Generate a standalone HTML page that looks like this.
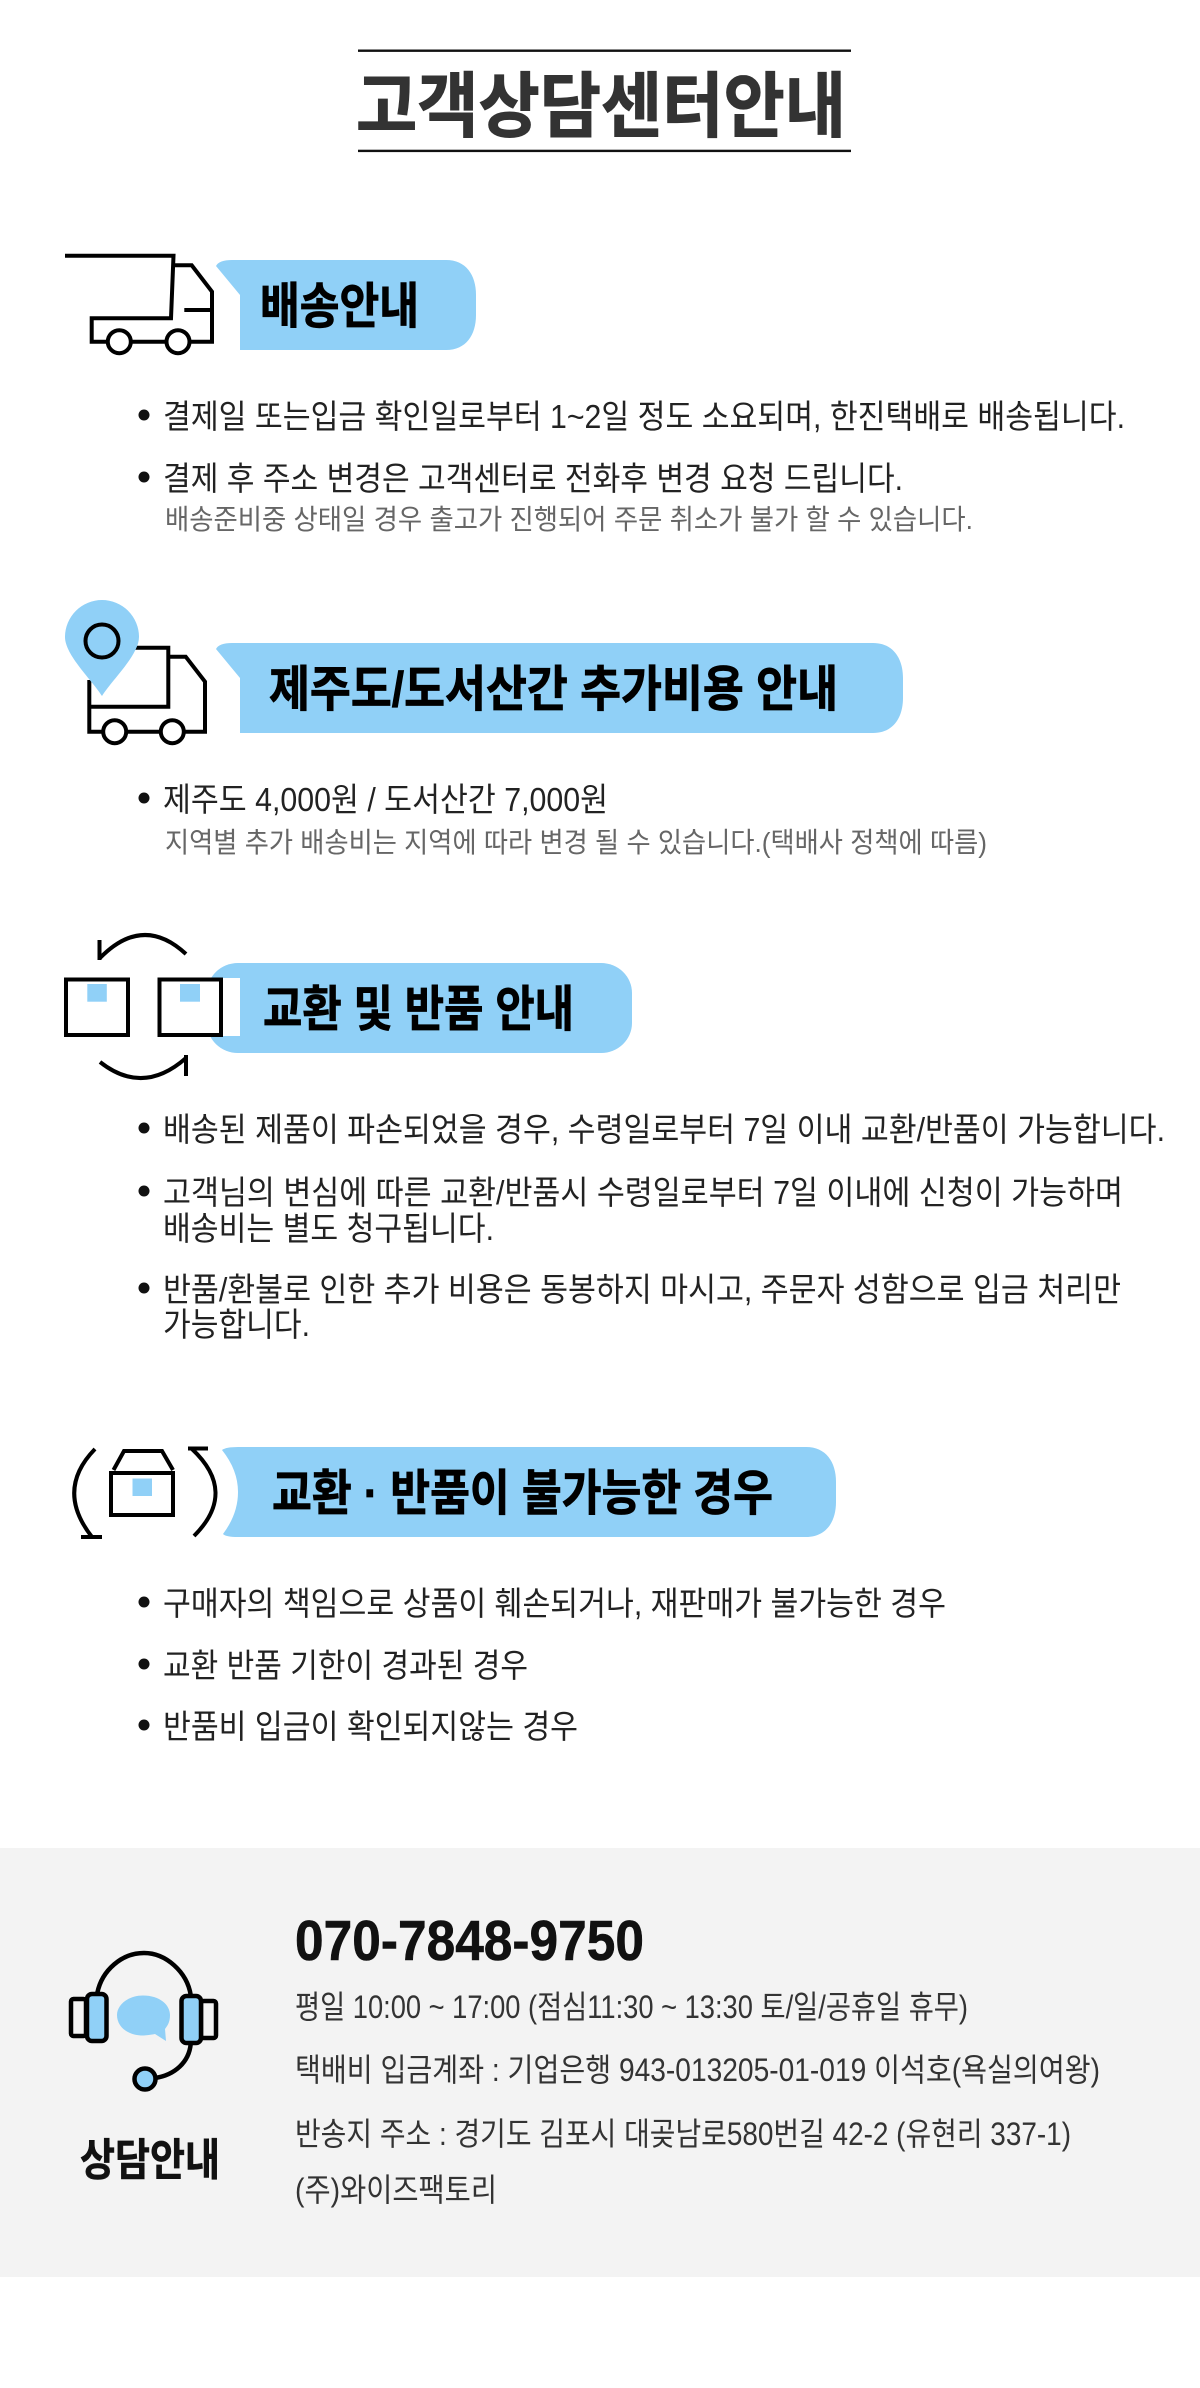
<!DOCTYPE html>
<html lang="ko"><head><meta charset="utf-8"><title>고객상담센터안내</title>
<style>
html,body{margin:0;padding:0;background:#fff;width:1200px;height:2388px;overflow:hidden}
svg{display:block}
text{font-family:"Liberation Sans","Noto Sans CJK KR",sans-serif}
.b{font-size:33px;fill:#222;font-weight:400}
.s{font-size:28px;fill:#666;font-weight:400}
.f{font-size:32px;fill:#333;font-weight:400}
.h{font-size:49px;fill:#000;stroke:#000;stroke-width:.8px;font-weight:700}
.ln{fill:none;stroke:#000;stroke-width:4}
.pill{fill:#90d0f7}
</style></head><body>
<svg width="1200" height="2388" viewBox="0 0 1200 2388" xmlns="http://www.w3.org/2000/svg">
<rect width="1200" height="2388" fill="#fff"/>
<!-- title -->
<rect x="358" y="49.500" width="493" height="2.400" fill="#111"/>
<rect x="358" y="149.700" width="493" height="2.400" fill="#111"/>
<text x="356" y="131" font-size="71" font-weight="700" fill="#333" stroke="#333" stroke-width="1" textLength="490" lengthAdjust="spacingAndGlyphs">고객상담센터안내</text>

<!-- section 1 -->
<path class="pill" d="M216 266Q219 260 232 260H446C466 260 476 275 476 295V315C476 335 466 350 446 350H240V295Z"/>
<path class="ln" d="M65 255.700H173.500L171 318.300H91.700V341.700H108M132 341.700H166M190 341.700H212V291.700L191.700 265.300H173.500M184.300 310H212"/>
<circle class="ln" cx="119.300" cy="341.700" r="11.500"/><circle class="ln" cx="178" cy="341.700" r="11.500"/>
<text class="h" x="260" y="323" textLength="159" lengthAdjust="spacingAndGlyphs">배송안내</text>
<circle cx="144" cy="415" r="5.500" fill="#111"/>
<text class="b" x="163" y="428" textLength="962" lengthAdjust="spacingAndGlyphs">결제일 또는입금 확인일로부터 1~2일 정도 소요되며, 한진택배로 배송됩니다.</text>
<circle cx="144" cy="477" r="5.500" fill="#111"/>
<text class="b" x="163" y="490" textLength="740" lengthAdjust="spacingAndGlyphs">결제 후 주소 변경은 고객센터로 전화후 변경 요청 드립니다.</text>
<text class="s" x="165" y="529" textLength="808" lengthAdjust="spacingAndGlyphs">배송준비중 상태일 경우 출고가 진행되어 주문 취소가 불가 할 수 있습니다.</text>

<!-- section 2 -->
<path class="pill" d="M216 649Q219 643 232 643H873C893 643 903 658 903 678V698C903 718 893 733 873 733H240V678Z"/>
<path class="ln" d="M130 647.700H168.300V706.700H89.300M89.300 680V731.700H102M127 731.700H160M185 731.700H205V681.700L185.700 656.700H168.300"/>
<circle class="ln" cx="114.700" cy="731.700" r="11.500"/><circle class="ln" cx="172.300" cy="731.700" r="11.500"/>
<path class="pill" d="M102 696C92 680 65 655 65 637A37 37 0 0 1 139 637C139 655 112 680 102 696Z"/>
<circle class="ln" cx="102" cy="641" r="16.500"/>
<text class="h" x="269" y="706" textLength="569" lengthAdjust="spacingAndGlyphs">제주도/도서산간 추가비용 안내</text>
<circle cx="144" cy="798" r="5.500" fill="#111"/>
<text class="b" x="163" y="811" textLength="445" lengthAdjust="spacingAndGlyphs">제주도 4,000원 / 도서산간 7,000원</text>
<text class="s" x="165" y="852" textLength="822" lengthAdjust="spacingAndGlyphs">지역별 추가 배송비는 지역에 따라 변경 될 수 있습니다.(택배사 정책에 따름)</text>

<!-- section 3 -->
<rect class="pill" x="207" y="963" width="425" height="90" rx="31" ry="30"/>
<rect x="207" y="978" width="33" height="58" fill="#fff"/>
<rect x="66" y="979.500" width="62" height="55.500" fill="none" stroke="#000" stroke-width="4"/>
<rect x="159.500" y="979.500" width="61.500" height="55.500" fill="none" stroke="#000" stroke-width="4"/>
<rect class="pill" x="87.300" y="984" width="19.500" height="17.700"/>
<rect class="pill" x="180" y="984" width="20" height="17.700"/>
<path class="ln" d="M186 954Q143 914 100 958M99.500 940V960"/>
<path class="ln" d="M100 1062Q143 1096 186 1058M186 1055V1076"/>
<text class="h" x="263" y="1026" textLength="311" lengthAdjust="spacingAndGlyphs">교환 및 반품 안내</text>
<circle cx="144" cy="1128" r="5.500" fill="#111"/>
<text class="b" x="163" y="1141" textLength="1002" lengthAdjust="spacingAndGlyphs">배송된 제품이 파손되었을 경우, 수령일로부터 7일 이내 교환/반품이 가능합니다.</text>
<circle cx="144" cy="1191" r="5.500" fill="#111"/>
<text class="b" x="163" y="1204" textLength="960" lengthAdjust="spacingAndGlyphs">고객님의 변심에 따른 교환/반품시 수령일로부터 7일 이내에 신청이 가능하며</text>
<text class="b" x="163" y="1240" textLength="331" lengthAdjust="spacingAndGlyphs">배송비는 별도 청구됩니다.</text>
<circle cx="144" cy="1288" r="5.500" fill="#111"/>
<text class="b" x="163" y="1301" textLength="958" lengthAdjust="spacingAndGlyphs">반품/환불로 인한 추가 비용은 동봉하지 마시고, 주문자 성함으로 입금 처리만</text>
<text class="b" x="163" y="1336" textLength="147" lengthAdjust="spacingAndGlyphs">가능합니다.</text>

<!-- section 4 -->
<path class="pill" d="M222 1450Q226 1447 238 1447H806C826 1447 836 1462 836 1482V1502C836 1522 826 1537 806 1537H238Q226 1537 223 1534Q238 1514 238 1492Q238 1470 222 1450Z"/>
<path class="ln" d="M95 1449Q55 1490 92 1537M81 1537H102"/>
<path class="ln" d="M188 1448.500H208M192 1449Q238 1492 194 1536"/>
<path class="ln" d="M111 1473H173V1515H111ZM113.500 1470L124 1451H162L173 1470"/>
<rect class="pill" x="132.500" y="1478.500" width="19.500" height="17.500"/>
<text class="h" x="272" y="1510" textLength="501" lengthAdjust="spacingAndGlyphs">교환 · 반품이 불가능한 경우</text>
<circle cx="144" cy="1602" r="5.500" fill="#111"/>
<text class="b" x="163" y="1615" textLength="783" lengthAdjust="spacingAndGlyphs">구매자의 책임으로 상품이 훼손되거나, 재판매가 불가능한 경우</text>
<circle cx="144" cy="1664" r="5.500" fill="#111"/>
<text class="b" x="163" y="1677" textLength="365" lengthAdjust="spacingAndGlyphs">교환 반품 기한이 경과된 경우</text>
<circle cx="144" cy="1725" r="5.500" fill="#111"/>
<text class="b" x="163" y="1738" textLength="415" lengthAdjust="spacingAndGlyphs">반품비 입금이 확인되지않는 경우</text>

<!-- footer -->
<rect x="0" y="1848" width="1200" height="429" fill="#f3f3f3"/>
<path d="M97.300 1993C102 1970 122 1953 144 1953C166 1953 187 1972 190.700 1995" fill="none" stroke="#000" stroke-width="4.500"/>
<path d="M190.700 2044C189 2062 175 2075 155 2078" fill="none" stroke="#000" stroke-width="4.500"/>
<rect x="71" y="1999" width="15" height="37" rx="2.500" fill="#f3f3f3" stroke="#000" stroke-width="4.500"/>
<rect x="87" y="1994" width="19.500" height="47" rx="5" fill="#90d0f7" stroke="#000" stroke-width="4.500"/>
<rect x="201" y="2001" width="15" height="37" rx="2.500" fill="#f3f3f3" stroke="#000" stroke-width="4.500"/>
<rect x="181.500" y="1996" width="19.500" height="47" rx="5" fill="#90d0f7" stroke="#000" stroke-width="4.500"/>
<path class="pill" d="M143 1995.500C160 1995.500 170 2005 170 2015C170 2023 167 2026 165 2029L166 2041L155 2034C150 2035 145 2035.500 143 2035.500C128 2035.500 117 2027 117 2015C117 2005 128 1995.500 143 1995.500Z"/>
<circle cx="145" cy="2079" r="10.500" fill="#90d0f7" stroke="#000" stroke-width="4.500"/>
<text x="80" y="2175" font-size="44" font-weight="700" fill="#111" stroke="#111" stroke-width=".6" textLength="140" lengthAdjust="spacingAndGlyphs">상담안내</text>
<text x="295" y="1960" font-size="57" font-weight="700" fill="#111" stroke="#111" stroke-width=".6" textLength="349" lengthAdjust="spacingAndGlyphs">070-7848-9750</text>
<text class="f" x="295" y="2018" textLength="673" lengthAdjust="spacingAndGlyphs">평일 10:00 ~ 17:00 (점심11:30 ~ 13:30 토/일/공휴일 휴무)</text>
<text class="f" x="295" y="2081" textLength="805" lengthAdjust="spacingAndGlyphs">택배비 입금계좌 : 기업은행 943-013205-01-019 이석호(욕실의여왕)</text>
<text class="f" x="295" y="2145" textLength="776" lengthAdjust="spacingAndGlyphs">반송지 주소 : 경기도 김포시 대곶남로580번길 42-2 (유현리 337-1)</text>
<text class="f" x="295" y="2201" textLength="202" lengthAdjust="spacingAndGlyphs">(주)와이즈팩토리</text>
</svg>
</body></html>
